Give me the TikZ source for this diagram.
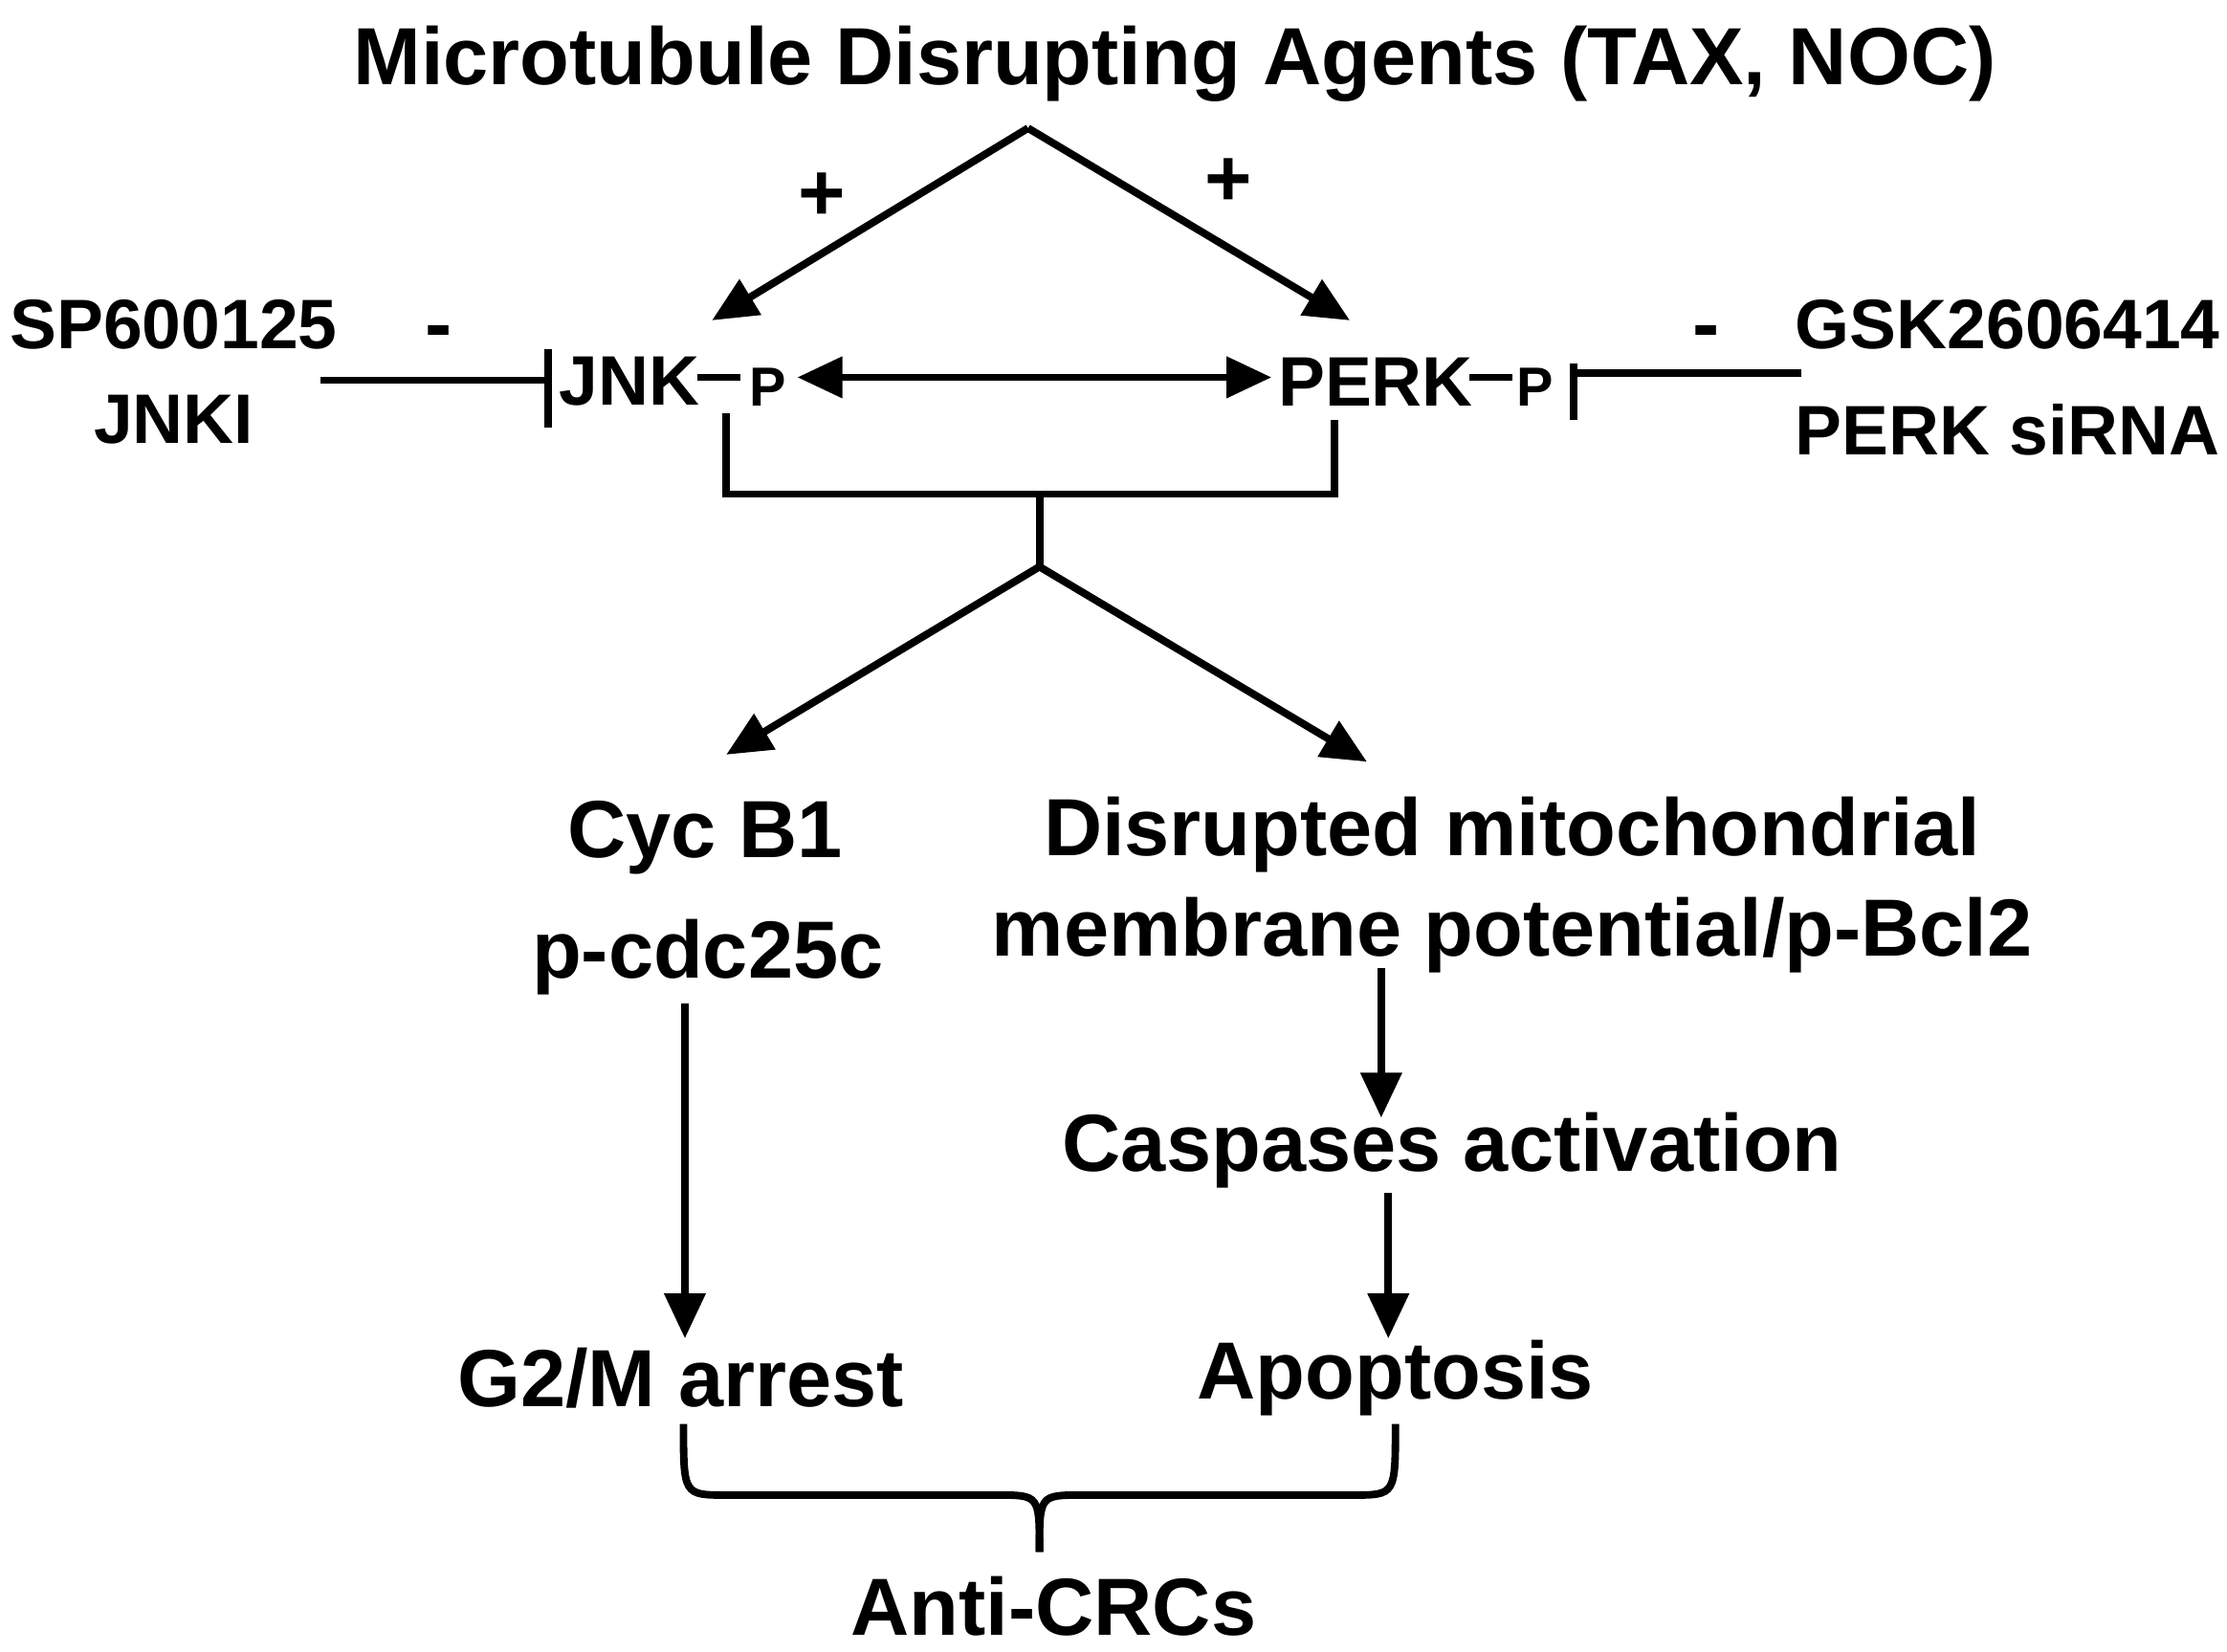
\documentclass[tikz,border=0pt]{standalone}
\usepackage{fontspec}
\setmainfont{Liberation Sans}
\usetikzlibrary{arrows.meta}
\begin{document}
\begin{tikzpicture}[x=1cm,y=-1cm]
        \tikzset{lbl/.style = {font=\fontsize{14}{16}\selectfont\bfseries, inner sep=1pt}}
        \tikzset{big/.style = {lbl, font=\fontsize{16.2}{18}\selectfont\bfseries}}
        \tikzset{edge/.style = {-{Triangle[length=9pt,width=8pt]}, line width=1.5pt}}
        \tikzset{line/.style = {line width=1.5pt}}
        \useasboundingbox (0,0) rectangle (15.64,11.60);
        % texts
        \node[big] (mda) at (8.25,0.45) {Microtubule Disrupting Agents (TAX, NOC)};
        \node[lbl] (jnk) at (4.42,2.68) {JNK};
        \node[lbl, font=\fontsize{11}{13}\selectfont\bfseries] (jp) at (5.39,2.72) {P};
        \node[lbl] (perk) at (9.66,2.68) {PERK};
        \node[lbl, font=\fontsize{11}{13}\selectfont\bfseries] (pp) at (10.78,2.72) {P};
        \node[lbl] (sp) at (1.22,2.28) {SP600125};
        \node[lbl] (jnki) at (1.22,2.95) {JNKI};
        \node[lbl] (gsk) at (14.10,2.28) {GSK2606414};
        \node[lbl] (sirna) at (14.10,3.02) {PERK siRNA};
        \node[big] at (5.77,1.38) {+};
        \node[big] at (8.63,1.28) {+};
        \node[big] at (3.08,2.38) {-};
        \node[big] at (11.98,2.38) {-};
        \node[big] (cyc) at (4.95,5.88) {Cyc B1};
        \node[big] (cdc) at (4.97,6.72) {p-cdc25c};
        \node[big] (mito) at (10.62,5.86) {Disrupted mitochondrial};
        \node[big] (memb) at (10.62,6.57) {membrane potential/p-Bcl2};
        \node[big] (casp) at (10.20,8.08) {Caspases activation};
        \node[big] (g2m) at (4.78,9.68) {G2/M arrest};
        \node[big] (apop) at (9.80,9.68) {Apoptosis};
        \node[big] (anti) at (7.40,11.28) {Anti-CRCs};
        % points
        \coordinate (top) at (7.22,0.90);
        \coordinate (mid) at (7.30,3.98);
        % edges
        \draw[edge] (top) -- (5.00,2.25);
        \draw[edge] (top) -- (9.48,2.25);
        \draw[line] (4.90,2.65) -- (5.20,2.65);
        \draw[line] (10.32,2.65) -- (10.62,2.65);
        \draw[edge, {Triangle[length=9pt,width=8pt]}-{Triangle[length=9pt,width=8pt]}] (5.60,2.65) -- (8.93,2.65);
        \draw[line] (2.25,2.67) -- (3.85,2.67);
        \draw[line] (3.85,2.45) -- (3.85,3.00);
        \draw[line] (12.65,2.62) -- (11.05,2.62);
        \draw[line] (11.05,2.55) -- (11.05,2.95);
        \draw[line] (5.10,2.90) -- (5.10,3.47) -- (9.37,3.47) -- (9.37,2.95);
        \draw[line] (7.30,3.47) -- (mid);
        \draw[edge] (mid) -- (5.10,5.30);
        \draw[edge] (mid) -- (9.60,5.35);
        \draw[edge] (4.81,7.05) -- (4.81,9.40);
        \draw[edge] (9.70,6.80) -- (9.70,7.85);
        \draw[edge] (9.75,8.38) -- (9.75,9.40);
        % brace
        \draw[line] (4.80,10.00) .. controls (4.80,10.50) .. (5.10,10.50) -- (7.00,10.50)
          .. controls (7.30,10.50) .. (7.30,10.90);
        \draw[line] (9.80,10.00) .. controls (9.80,10.50) .. (9.50,10.50) -- (7.60,10.50)
          .. controls (7.30,10.50) .. (7.30,10.90);
\end{tikzpicture}
\end{document}
